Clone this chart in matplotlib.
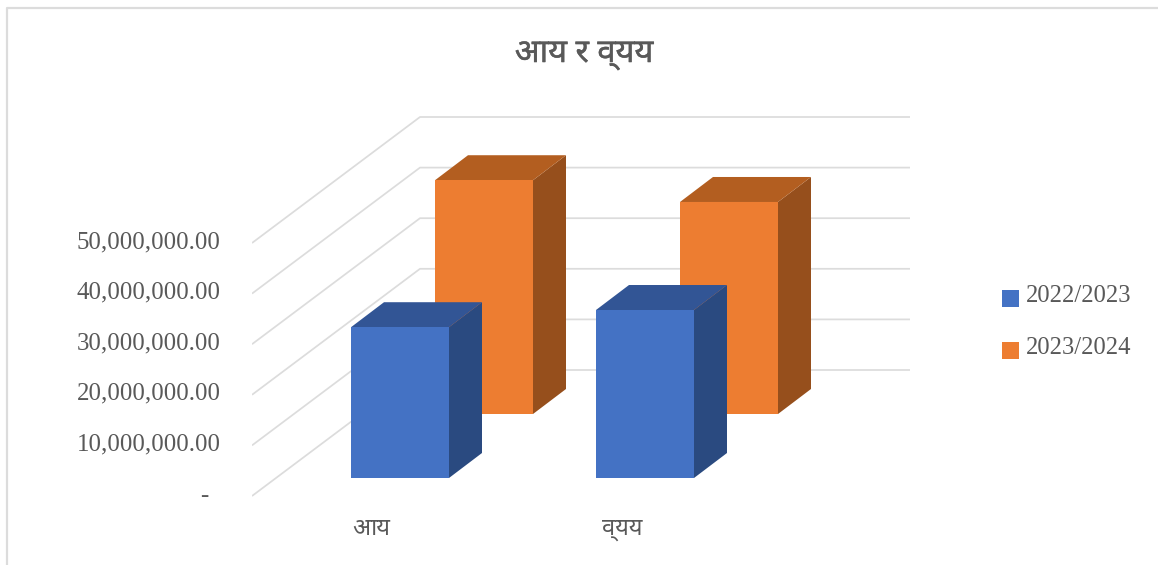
import matplotlib
matplotlib.use("Agg")
import matplotlib.pyplot as plt
import matplotlib.patheffects as pe
from matplotlib.patches import Polygon, Rectangle
from matplotlib import font_manager as fm

categories = ["आय", "व्यय"]
series_names = ["2022/2023", "2023/2024"]
values_2223 = [29800000, 33200000]
values_2324 = [46200000, 41900000]
y_ticks = [0, 10000000, 20000000, 30000000, 40000000, 50000000]
title = "आय र व्यय"

W, H = 1158, 565
installed = {f.name for f in fm.fontManager.ttflist}
deva = [n for n in ["Noto Sans Devanagari", "Mukta", "Hind", "Annapurna SIL"] if n in installed] + ["DejaVu Sans"]
serif = "Liberation Serif"
TXT = "#595959"
GRID = "#DCDCDC"
colors = {0: ("#4472C4", "#2A4A80", "#325595"), 1: ("#ED7D31", "#964F1C", "#B35E20")}

fig = plt.figure(figsize=(W / 100, H / 100), dpi=100)
fig.add_artist(plt.Line2D([7.5 / W, 7.5 / W, 1], [0, 1 - 7.5 / H, 1 - 7.5 / H], color=GRID, lw=1.6))

# axes spans pixels x 252-910, y 100-500
ax = fig.add_axes([252 / W, 1 - 500 / H, (910 - 252) / W, 400 / H])
PX = 1e7 / 50.6  # value units per pixel
ax.set_xlim(252, 910)
ax.set_ylim(-4 * PX, 396 * PX)
for s in ax.spines.values():
    s.set_visible(False)

wall_dx, wall_dy = 168, 126 * PX
for v in y_ticks:
    ax.plot([252, 252 + wall_dx, 910], [v, v + wall_dy, v + wall_dy], color=GRID, lw=1.25, zorder=1, solid_capstyle="butt")

def bar3d(x, base, val, cols, z):
    w, dx, dy = 98, 33, 25 * PX
    front, side, top = cols
    t = base + val
    ax.add_patch(Polygon([(x + w, base), (x + w + dx, base + dy), (x + w + dx, t + dy), (x + w, t)], fc=side, ec="none", zorder=z))
    ax.add_patch(Polygon([(x, t), (x + w, t), (x + w + dx, t + dy), (x + dx, t + dy)], fc=top, ec="none", zorder=z))
    ax.add_patch(Rectangle((x, base), w, val, fc=front, ec="none", zorder=z))

base_front = 18 * PX
base_back = 82 * PX
x_front = [351, 596]
x_back = [435, 680]
for i in range(len(categories)):
    bar3d(x_back[i], base_back, values_2324[i], colors[1], 2 + i * 2)
    bar3d(x_front[i], base_front, values_2223[i], colors[0], 3 + i * 2)

ax.set_yticks(y_ticks)
ax.set_yticklabels([f"{v:,.2f}" if v else "-" for v in y_ticks], family=serif, fontsize=17.9, color=TXT)
ax.tick_params(axis="y", length=0, pad=22.5)
for lab, v in zip(ax.get_yticklabels(), y_ticks):
    lab.set_verticalalignment("center")
    lab.set_transform(lab.get_transform() + matplotlib.transforms.ScaledTranslation(0, 1 / 100, fig.dpi_scale_trans))
    if v == 0:
        lab.set_visible(False)
ax.text(204, 0, "-", family=serif, fontsize=17.9, color=TXT, ha="center", va="center", clip_on=False)

ax.set_xticks([371, 622])
ax.set_xticklabels(categories, family=deva, fontsize=17, color=TXT)
ax.tick_params(axis="x", length=0, pad=12)

fig.text(584 / W, 1 - 54 / H, title, family=deva, fontsize=23.5, color=TXT, ha="center", va="center",
         path_effects=[pe.withStroke(linewidth=0.3, foreground=TXT)])

handles = [Rectangle((0, 0), 1, 1, fc=colors[i][0]) for i in range(2)]
leg = fig.legend(handles, series_names, loc="upper left", bbox_to_anchor=(1002 / W, 1 - 285 / H), frameon=False,
                 prop={"family": serif, "size": 17.7}, labelcolor=TXT, handlelength=0.69, handleheight=0.69,
                 handletextpad=0.30, labelspacing=1.22, borderpad=0, borderaxespad=0)
for p in leg.get_patches():
    p.set_y(p.get_y() - 3.5)

fig.savefig("out.png", dpi=100)
